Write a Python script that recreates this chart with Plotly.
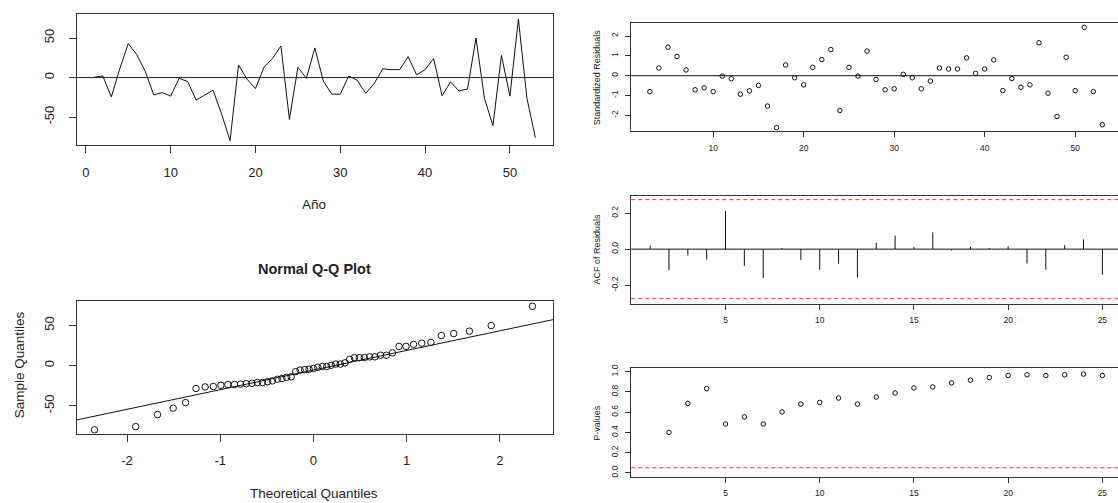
import numpy as np
import plotly.graph_objects as go

W, H = 1118, 503

# ---- data -------------------------------------------------------------
anio = list(range(1, 54))
residuos = [0.5, 2, -24.5, 11, 43, 29, 8, -22, -19, -23.5,
            -1, -5, -28.5, -22.5, -16, -46, -80, 16, -2, -14,
            13, 24, 40, -53, 13, -1, 37.5, -4.5, -21, -21,
            2, -3.5, -20, -7.5, 11, 10, 10, 26.5, 3.5, 10,
            24, -23, -5.5, -17, -14.5, 50, -26.5, -61, 28, -23.5,
            74, -26, -76]

t_std = list(range(3, 54))
residuos_std = [-0.80, 0.39, 1.44, 0.97, 0.29, -0.71, -0.61, -0.80, -0.02, -0.15,
                -0.93, -0.76, -0.49, -1.53, -2.61, 0.54, -0.10, -0.46, 0.42, 0.81,
                1.32, -1.75, 0.42, -0.02, 1.24, -0.19, -0.71, -0.66, 0.07, -0.10,
                -0.66, -0.27, 0.39, 0.34, 0.34, 0.90, 0.12, 0.34, 0.80, -0.75,
                -0.14, -0.58, -0.46, 1.66, -0.88, -2.05, 0.93, -0.75, 2.44, -0.80,
                -2.47]

lags = list(range(1, 26))
acf_res = [0.020, -0.118, -0.036, -0.058, 0.211, -0.092, -0.161, 0.006, -0.060, -0.114,
           -0.080, -0.157, 0.036, 0.075, 0.013, 0.093, -0.008, 0.013, 0.007, 0.017,
           -0.080, -0.114, 0.022, 0.054, -0.142]
banda_acf = 0.275

lags_p = list(range(2, 26))
p_valores = [0.40, 0.687, 0.833, 0.483, 0.553, 0.483, 0.603, 0.68, 0.697, 0.74,
             0.68, 0.75, 0.79, 0.84, 0.85, 0.89, 0.917, 0.943, 0.963, 0.97,
             0.963, 0.97, 0.977, 0.963]
nivel_p = 0.05

# lower half of the normal scores for n = 53 (the upper half mirrors it)
cuantiles_neg = [-2.349, -1.907, -1.673, -1.505, -1.372, -1.260, -1.162, -1.074, -0.993,
                 -0.918, -0.848, -0.782, -0.720, -0.660, -0.602, -0.546, -0.492, -0.440,
                 -0.388, -0.338, -0.288, -0.239, -0.191, -0.143, -0.095, -0.047]
cuantiles_teoricos = cuantiles_neg + [0.0] + [-q for q in reversed(cuantiles_neg)]
cuantiles_muestra = sorted(residuos)

# qqline through the first and third quartiles
q1, q3 = np.percentile(residuos, [25, 75])
z75 = 0.6744898
pendiente = (q3 - q1) / (2 * z75)
intercepto = q1 + pendiente * z75

# tick positions and labels (plain hyphen for negatives)
ticks_anio = [0, 10, 20, 30, 40, 50]
ticks_res = [-50, 0, 50]
ticks_qq = [-2, -1, 0, 1, 2]
ticks_t = [10, 20, 30, 40, 50]
ticks_std = [-2, -1, 0, 1, 2]
ticks_lag = [5, 10, 15, 20, 25]
ticks_acf = [-0.2, 0.0, 0.2]
etiquetas_acf = ["-0.2", "0.0", "0.2"]
ticks_p = [0, 0.2, 0.4, 0.6, 0.8, 1.0]
etiquetas_p = ["0.0", "0.2", "0.4", "0.6", "0.8", "1.0"]

# ---- helpers ------------------------------------------------------------
FONT = "Liberation Sans, Arial, sans-serif"
INK = "#222222"
FRAME = "#333333"


def fx(px):
    return px / W


def fy(px):
    return 1 - px / H


def eje_x(n, dom, rng, ticks, big, mirror=True, labels=None):
    return dict(domain=dom, range=rng, tickvals=ticks,
                ticktext=labels if labels is not None else [str(t) for t in ticks],
                ticks="outside", anchor="y" if n == 1 else f"y{n}",
                ticklen=7 if big else 5, tickcolor=FRAME, tickwidth=1,
                showline=True, linecolor=FRAME, linewidth=1, mirror=mirror,
                showgrid=False, zeroline=False,
                tickfont=dict(family=FONT, size=13 if big else 8.5, color=INK),
                ticklabelstandoff=8 if big else 3)


def eje_y(n, dom, rng, ticks, big, mirror=True, labels=None):
    return dict(domain=dom, range=rng, tickvals=ticks,
                ticktext=labels if labels is not None else [str(t) for t in ticks],
                ticks="outside", anchor="x" if n == 1 else f"x{n}",
                ticklen=7 if big else 5, tickcolor=FRAME, tickwidth=1,
                showline=True, linecolor=FRAME, linewidth=1, mirror=mirror,
                showgrid=False, zeroline=False, tickangle=-90,
                tickfont=dict(family=FONT, size=13 if big else 8.5, color=INK),
                ticklabelstandoff=10 if big else 4)


fig = go.Figure()

# top-left: residual series
fig.add_trace(go.Scatter(x=anio, y=residuos, mode="lines",
                         line=dict(color="#111111", width=1), xaxis="x", yaxis="y"))

# Q-Q plot
fig.add_trace(go.Scatter(x=cuantiles_teoricos, y=cuantiles_muestra, mode="markers",
                         marker=dict(symbol="circle-open", size=6.5, color="#111111",
                                     line=dict(width=1)),
                         xaxis="x2", yaxis="y2"))
qq_rango = [-2.54, 2.57]
fig.add_trace(go.Scatter(x=qq_rango, y=[intercepto + pendiente * v for v in qq_rango],
                         mode="lines", line=dict(color="#111111", width=1),
                         xaxis="x2", yaxis="y2"))

# standardized residuals
fig.add_trace(go.Scatter(x=t_std, y=residuos_std, mode="markers",
                         marker=dict(symbol="circle-open", size=4.5, color="#111111",
                                     line=dict(width=1)),
                         xaxis="x3", yaxis="y3"))

# ACF spikes
sx, sy = [], []
for k, v in zip(lags, acf_res):
    sx += [k, k, None]
    sy += [0, v, None]
fig.add_trace(go.Scatter(x=sx, y=sy, mode="lines", line=dict(color="#111111", width=1),
                         xaxis="x4", yaxis="y4"))

# Ljung-Box p-values
fig.add_trace(go.Scatter(x=lags_p, y=p_valores, mode="markers",
                         marker=dict(symbol="circle-open", size=4.5, color="#111111",
                                     line=dict(width=1)),
                         xaxis="x5", yaxis="y5"))

shapes = []


def hline(ax, y, color, dash="solid"):
    shapes.append(dict(type="line", xref=f"{ax} domain", x0=0, x1=1,
                       yref=ax.replace("x", "y"), y0=y, y1=y,
                       line=dict(color=color, width=1, dash=dash)))


hline("x", 0, "#222222")
hline("x3", 0, "#111111")
hline("x4", 0, "#111111")
hline("x4", banda_acf, "#ff2a2a", "4px,3px")
hline("x4", -banda_acf, "#ff2a2a", "4px,3px")
hline("x5", nivel_p, "#ff2a2a", "4px,3px")

left_dom = [fx(76.7), fx(553)]
right_dom = [fx(631.3), 1.0]

fig.update_layout(
    width=W, height=503, autosize=False,
    margin=dict(l=0, r=0, t=0, b=0),
    paper_bgcolor="white", plot_bgcolor="white",
    showlegend=False,
    shapes=shapes,
    xaxis=eje_x(1, left_dom, [-1.08, 55.08], ticks_anio, True),
    yaxis=eje_y(1, [fy(142.5), fy(10.3)], [-85.5, 80.2], ticks_res, True),
    xaxis2=eje_x(2, left_dom, [-2.54, 2.57], ticks_qq, True),
    yaxis2=eje_y(2, [fy(434), fy(300.3)], [-84.8, 80.2], ticks_res, True),
    xaxis3=eje_x(3, right_dom, [0.95, 54.73], ticks_t, False),
    yaxis3=eje_y(3, [fy(128.6), fy(18.7)], [-2.80, 2.68], ticks_std, False, mirror=False),
    xaxis4=eje_x(4, right_dom, [0, 25.83], ticks_lag, False),
    yaxis4=eje_y(4, [fy(303.1), fy(193.6)], [-0.305, 0.297], ticks_acf, False,
                 mirror=False, labels=etiquetas_acf),
    xaxis5=eje_x(5, right_dom, [0, 25.83], ticks_lag, False),
    yaxis5=eje_y(5, [fy(477.6), fy(368.1)], [-0.04, 1.033], ticks_p, False,
                 mirror=False, labels=etiquetas_p),
)


def titulo(text, xpx, ypx, size, angle=0, bold=False):
    fig.add_annotation(text=f"<b>{text}</b>" if bold else text,
                       xref="paper", yref="paper", x=fx(xpx), y=fy(ypx),
                       xanchor="center", yanchor="middle", showarrow=False,
                       textangle=angle, font=dict(family=FONT, size=size, color=INK))


titulo("Año", 314, 203, 13.5)
titulo("Normal Q-Q Plot", 314, 268, 14.5, bold=True)
titulo("Sample Quantiles", 19, 365, 13.5, angle=-90)
titulo("Theoretical Quantiles", 314, 494, 13.5)
titulo("Standardized Residuals", 597, 74, 9, angle=-90)
titulo("ACF of Residuals", 597, 248, 9, angle=-90)
titulo("P-values", 597, 423, 9, angle=-90)

fig.write_html("out.html")
